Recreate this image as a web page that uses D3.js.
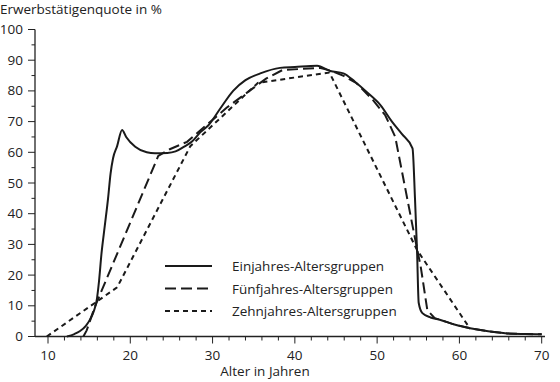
<!DOCTYPE html>
<html>
<head>
<meta charset="utf-8">
<script src="https://cdn.jsdelivr.net/npm/d3@7"></script>
<style>
  body { margin: 0; background: #fff; }
  svg { display: block; }
  text { font-family: "Liberation Sans Narrow", "Open Sans", sans-serif; fill: #222; }
</style>
</head>
<body>
<div class="container"></div>
<script>
var einjahres = [
    [12.3, 0], [13.2, 0.8], [13.9, 1.8], [14.6, 3.5], [15.1, 5.5], [15.6, 8.5], [15.9, 11.5],
    [16.2, 18], [16.5, 27], [16.9, 36], [17.3, 45], [17.6, 53], [17.9, 58], [18.4, 62],
    [19.0, 67.3], [19.5, 65], [20.6, 61.8], [22, 60], [23, 59.7], [24.5, 59.8], [25.5, 60.3],
    [26.5, 61.8], [27.5, 63.5], [28.5, 66.5], [29.5, 68.8], [31, 74.5], [32.5, 80], [34, 83.5],
    [35.8, 85.7], [38.2, 87.5], [40, 87.8], [42.7, 88.2], [44.3, 86.5], [45.9, 85.7],
    [47.3, 83], [48.8, 79.5], [50.4, 75.4], [51.8, 70], [53, 66], [54.3, 61.3], [54.6, 45],
    [54.85, 28], [55.05, 11], [55.5, 7.6], [56.5, 6.2], [57.7, 5.4], [59.5, 3.8], [61.3, 2.7],
    [63.5, 1.7], [65.8, 1.0], [68, 0.8], [70, 0.7]
];

var fuenfjahres = [
    [14.3, 0], [14.7, 2], [15.7, 9.7], [23.4, 58.8], [24.8, 61], [26.9, 63.4], [31.7, 74.5],
    [36.5, 84], [38.5, 86.8], [43, 87.5], [44.5, 86.5], [46, 84.8], [47.5, 82.5], [49.5, 77],
    [51, 72], [52.2, 65], [54.6, 32], [55.3, 22.7], [56.1, 8.6], [57, 6], [57.7, 5.4],
    [59.5, 3.8], [61.3, 2.7], [63.5, 1.7], [65.8, 1.0], [68, 0.8], [70, 0.7]
];

var zehnjahres = [
    [9.85, 0], [18.4, 16], [27.3, 62], [35.5, 82.6], [44.2, 86], [54.85, 28.2], [61.3, 2.5]
];

var serien = [
    { name: "Einjahres-Altersgruppen", values: einjahres, dash: null },
    { name: "Fünfjahres-Altersgruppen", values: fuenfjahres, dash: "11,5" },
    { name: "Zehnjahres-Altersgruppen", values: zehnjahres, dash: "5,4" }
];

var xTicks = [10, 20, 30, 40, 50, 60, 70];
var yTicks = [0, 10, 20, 30, 40, 50, 60, 70, 80, 90, 100];

var width = 560, height = 382;

var svg = d3.select('.container')
    .append('svg')
    .attr('width', width)
    .attr('height', height);

var x = d3.scaleLinear().domain([10, 70]).range([48, 541.7]);
var y = d3.scaleLinear().domain([0, 100]).range([336.5, 29.5]);

// y-Achse
var yAxis = d3.axisLeft(y)
    .tickValues(d3.range(0, 101, 5))
    .tickSize(0)
    .tickFormat("");

var gy = svg.append('g').attr('transform', 'translate(35,0)');
gy.append('line')
    .attr('x1', 0).attr('x2', 0)
    .attr('y1', y(100)).attr('y2', y(0))
    .attr('stroke', '#222').attr('stroke-width', 1.3);
gy.selectAll('.ytick')
    .data(d3.range(0, 101, 5))
    .enter().append('line')
    .attr('x1', function (d) { return d % 10 == 0 ? -7 : -3.5 })
    .attr('x2', 0)
    .attr('y1', function (d) { return y(d) })
    .attr('y2', function (d) { return y(d) })
    .attr('stroke', '#222').attr('stroke-width', 1);
gy.selectAll('.ylabel')
    .data(yTicks)
    .enter().append('text')
    .attr('x', -12)
    .attr('y', function (d) { return y(d) + 4.5 })
    .attr('text-anchor', 'end')
    .attr('font-size', '13.5px')
    .text(function (d) { return d });

// x-Achse
var gx = svg.append('g').attr('transform', 'translate(0,' + y(0) + ')');
gx.append('line')
    .attr('x1', 35).attr('x2', 545)
    .attr('y1', 0).attr('y2', 0)
    .attr('stroke', '#222').attr('stroke-width', 1.3);
gx.selectAll('.xtick')
    .data(d3.range(10, 71, 2))
    .enter().append('line')
    .attr('x1', function (d) { return x(d) })
    .attr('x2', function (d) { return x(d) })
    .attr('y1', 0)
    .attr('y2', function (d) { return d % 10 == 0 ? 7 : 4 })
    .attr('stroke', '#222').attr('stroke-width', 1);
gx.selectAll('.xlabel')
    .data(xTicks)
    .enter().append('text')
    .attr('x', function (d) { return x(d) })
    .attr('y', 23)
    .attr('text-anchor', 'middle')
    .attr('font-size', '13.5px')
    .text(function (d) { return d });

// Achsentitel
svg.append('text')
    .attr('x', 0).attr('y', 14)
    .attr('font-size', '13.5px')
    .text('Erwerbstätigenquote in %');

svg.append('text')
    .attr('x', 265).attr('y', 376)
    .attr('text-anchor', 'middle')
    .attr('font-size', '13.5px')
    .text('Alter in Jahren');

// Linien
var line = d3.line()
    .x(function (d) { return x(d[0]) })
    .y(function (d) { return y(d[1]) });

svg.append('g')
    .selectAll('path')
    .data(serien)
    .enter().append('path')
    .attr('d', function (s, i) { return line.curve(i == 0 ? d3.curveMonotoneX : d3.curveLinear)(s.values) })
    .attr('fill', 'none')
    .attr('stroke', '#1a1a1a')
    .attr('stroke-width', 2)
    .attr('stroke-dasharray', function (s) { return s.dash });

// Legende
var legend = svg.append('g')
    .selectAll('g')
    .data(serien)
    .enter().append('g')
    .attr('transform', function (s, i) { return 'translate(165,' + (266 + i * 22.5) + ')' });

legend.append('line')
    .attr('x1', 0).attr('x2', 47)
    .attr('y1', 0).attr('y2', 0)
    .attr('stroke', '#1a1a1a')
    .attr('stroke-width', 2)
    .attr('stroke-dasharray', function (s) { return s.dash });

legend.append('text')
    .attr('x', 67)
    .attr('y', 5)
    .attr('font-size', '13.5px')
    .text(function (s) { return s.name });
</script>
</body>
</html>
